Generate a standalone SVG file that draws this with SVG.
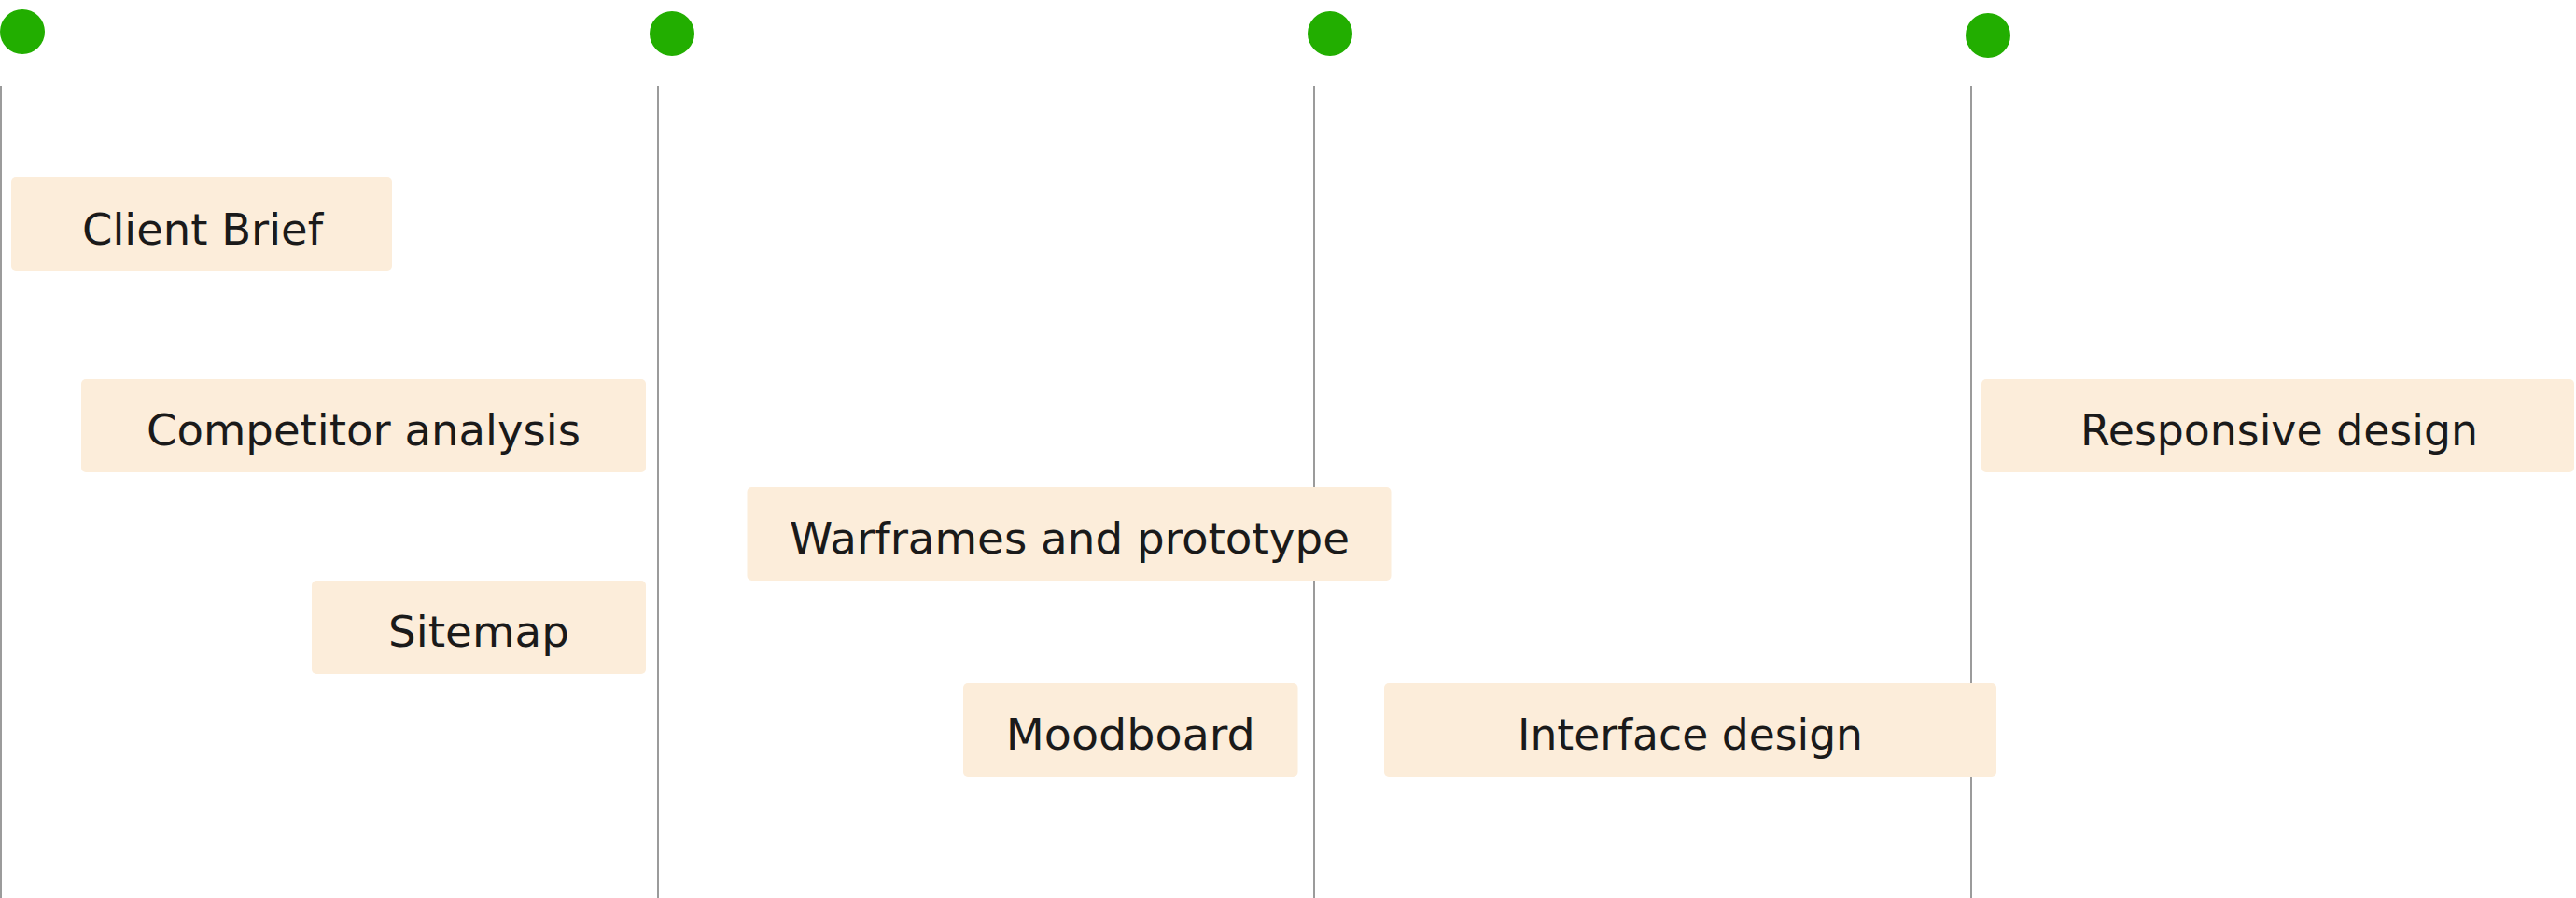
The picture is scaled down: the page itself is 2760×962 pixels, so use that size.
<svg xmlns="http://www.w3.org/2000/svg" width="2760" height="962" viewBox="0 0 2760 962">
<style>
.bg{fill:#ffffff}
.line{stroke:#9b9b9b;stroke-width:2;fill:none}
.dot{fill:#22ae00}
.box{fill:#fcedda}
.lbl{font-family:"DejaVu Sans","Liberation Sans",sans-serif;font-size:46.5px;fill:#1a1a1a;text-anchor:middle}
</style>
<rect class="bg" x="0" y="0" width="2760" height="962"/>
<g id="timeline-lines">
<line class="line" x1="1" y1="92" x2="1" y2="962"/>
<line class="line" x1="705" y1="92" x2="705" y2="962"/>
<line class="line" x1="1408" y1="92" x2="1408" y2="962"/>
<line class="line" x1="2112" y1="92" x2="2112" y2="962"/>
</g>
<g id="milestones">
<circle class="dot" cx="24" cy="34" r="24"/>
<circle class="dot" cx="720" cy="36" r="24"/>
<circle class="dot" cx="1425" cy="36" r="24"/>
<circle class="dot" cx="2130" cy="38" r="24"/>
</g>
<g id="client-brief">
<rect class="box" x="12" y="190" width="408" height="100" rx="5"/>
<text class="lbl" x="217" y="262" textLength="258" lengthAdjust="spacingAndGlyphs">Client Brief</text>
</g>
<g id="competitor-analysis">
<rect class="box" x="87" y="406" width="605" height="100" rx="5"/>
<text class="lbl" x="389.5" y="477" textLength="465" lengthAdjust="spacingAndGlyphs">Competitor analysis</text>
</g>
<g id="sitemap">
<rect class="box" x="334" y="622" width="358" height="100" rx="5"/>
<text class="lbl" x="513" y="693" textLength="194" lengthAdjust="spacingAndGlyphs">Sitemap</text>
</g>
<g id="wireframes">
<rect class="box" x="800.5" y="522" width="690" height="100" rx="5"/>
<text class="lbl" x="1146" y="593" textLength="600" lengthAdjust="spacingAndGlyphs">Warframes and prototype</text>
</g>
<g id="moodboard">
<rect class="box" x="1032" y="732" width="358.5" height="100" rx="5"/>
<text class="lbl" x="1211.3" y="803" textLength="267" lengthAdjust="spacingAndGlyphs">Moodboard</text>
</g>
<g id="interface-design">
<rect class="box" x="1483" y="732" width="656" height="100" rx="5"/>
<text class="lbl" x="1811" y="803" textLength="370" lengthAdjust="spacingAndGlyphs">Interface design</text>
</g>
<g id="responsive-design">
<rect class="box" x="2123" y="406" width="635" height="100" rx="5"/>
<text class="lbl" x="2442" y="477" textLength="426" lengthAdjust="spacingAndGlyphs">Responsive design</text>
</g>
</svg>
